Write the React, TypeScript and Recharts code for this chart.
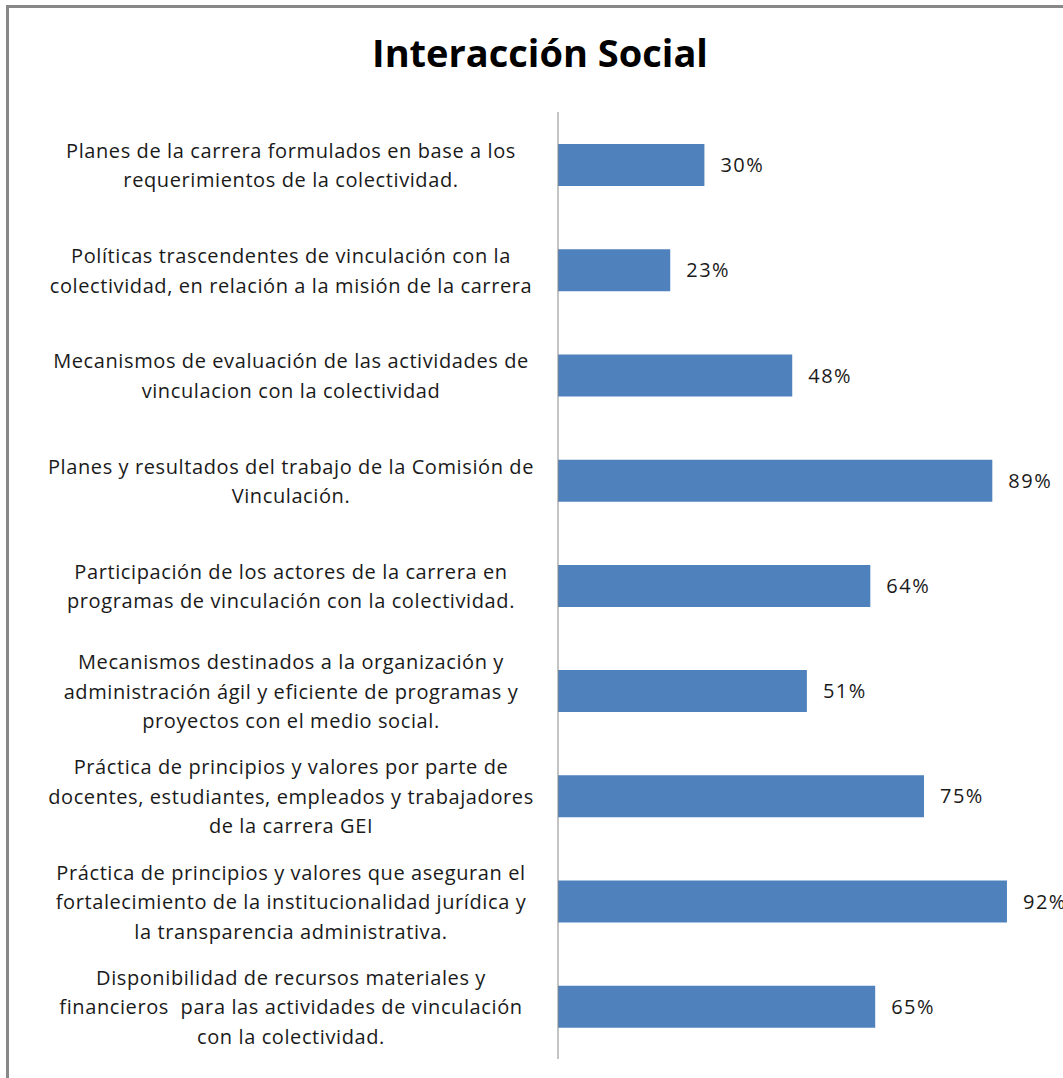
import React from "react";
import { BarChart, Bar, XAxis, YAxis, LabelList } from "recharts";

const TITLE = "Interacción Social";

// each category is split into the lines shown in the picture
const categories: string[][] = [
  ["Planes de la carrera formulados en base a los", "requerimientos de la colectividad."],
  ["Políticas trascendentes de vinculación con la", "colectividad, en relación a la misión de la carrera"],
  ["Mecanismos de evaluación de las actividades de", "vinculacion con la colectividad"],
  ["Planes y resultados del trabajo de la Comisión de", "Vinculación."],
  ["Participación de los actores de la carrera en", "programas de vinculación con la colectividad."],
  [
    "Mecanismos destinados a la organización y",
    "administración ágil y eficiente de programas y",
    "proyectos con el medio social.",
  ],
  [
    "Práctica de principios y valores por parte de",
    "docentes, estudiantes, empleados y trabajadores",
    "de la carrera GEI",
  ],
  [
    "Práctica de principios y valores que aseguran el",
    "fortalecimiento de la institucionalidad jurídica y",
    "la transparencia administrativa.",
  ],
  [
    "Disponibilidad de recursos materiales y",
    "financieros  para las actividades de vinculación",
    "con la colectividad.",
  ],
];

const values = [0.3, 0.23, 0.48, 0.89, 0.64, 0.51, 0.75, 0.92, 0.65];

const data = categories.map((lines, i) => ({
  key: String(i),
  lines,
  value: values[i],
}));

const FONT = "'Open Sans', 'Noto Sans', sans-serif";

function CategoryTick(props: any) {
  const { y, payload } = props;
  const lines: string[] = categories[Number(payload.value)] || [];
  const lh = 29.5;
  const start = y - ((lines.length - 1) * lh) / 2;
  return (
    <text
      x={291}
      y={start}
      textAnchor="middle"
      fontFamily={FONT}
      fontSize={20}
      letterSpacing={0.6}
      fill="#1a1a1a"
      dominantBaseline="central"
    >
      {lines.map((l, i) => (
        <tspan key={i} x={291} y={start + i * lh} style={{ whiteSpace: "pre" }}>
          {l}
        </tspan>
      ))}
    </text>
  );
}

export default function App() {
  return (
    <div
      style={{
        position: "absolute",
        left: 0,
        top: 0,
        width: 1063,
        height: 1078,
        overflow: "hidden",
        background: "#fff",
      }}
    >
      {/* chart frame, only its left and top edges are inside the picture */}
      <div
        style={{
          position: "absolute",
          left: 6,
          top: 5,
          width: 1200,
          height: 1200,
          borderLeft: "3px solid #888",
          borderTop: "3px solid #888",
        }}
      />
      <div
        style={{
          position: "absolute",
          left: 0,
          top: 26,
          width: 1080,
          textAlign: "center",
          fontFamily: FONT,
          fontWeight: 700,
          fontSize: 38,
          color: "#000",
        }}
      >
        {TITLE}
      </div>
      <div style={{ position: "absolute", left: 0, top: 0 }}>
        <BarChart
          width={1063}
          height={1078}
          data={data}
          layout="vertical"
          margin={{ top: 112, right: 17, bottom: 19, left: 0 }}
        >
          <XAxis type="number" domain={[0, 1]} hide />
          <YAxis
            type="category"
            dataKey="key"
            width={558}
            axisLine={{ stroke: "#888" }}
            tickLine={false}
            interval={0}
            tick={<CategoryTick />}
          />
          <Bar dataKey="value" fill="#4F81BD" barSize={42} isAnimationActive={false}>
            <LabelList
              dataKey="value"
              position="right"
              offset={16}
              formatter={(v: any) => `${Math.round(Number(v) * 100)}%`}
              style={{ fontFamily: FONT, fontSize: 20, letterSpacing: 1.5, fill: "#1a1a1a" }}
            />
          </Bar>
        </BarChart>
      </div>
    </div>
  );
}
